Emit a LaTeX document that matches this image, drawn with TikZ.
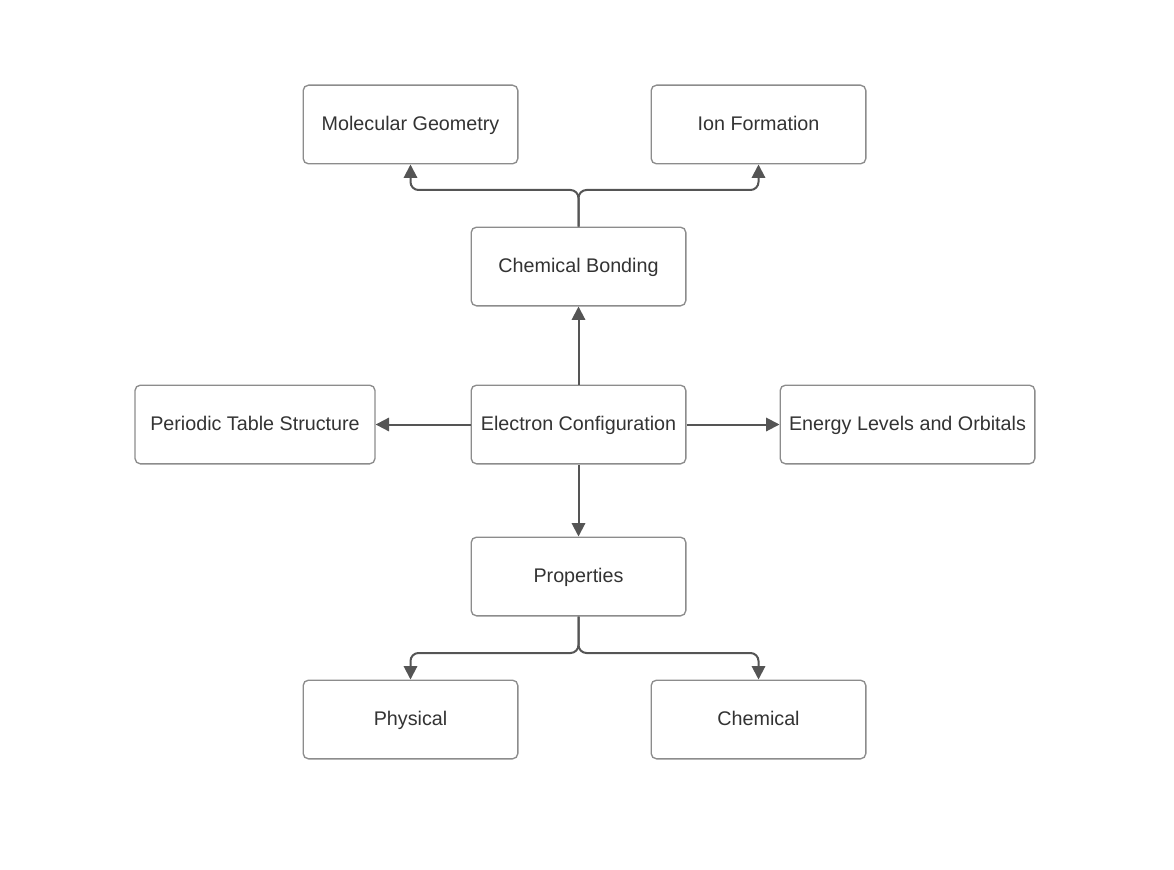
\documentclass[tikz,border=0pt]{standalone}
\usepackage{fontspec}
\setmainfont{Liberation Sans}
\usetikzlibrary{%
    arrows.meta,
    positioning
}
\definecolor{boxline}{HTML}{8C8C8C}
\definecolor{connline}{HTML}{555555}
\definecolor{labeltext}{HTML}{333333}
\tikzset{headarrow/.style = {-{Triangle[length=10pt,width=10pt]}, draw=connline, line width=1.5pt, rounded corners=6pt}}
\tikzset{topicbox/.style = {draw=boxline, line width=1pt, rounded corners=4pt, fill=white,
    minimum width=161pt, minimum height=59pt, text=labeltext,
    text height=0.95em, text depth=0.05em,
    font=\fontsize{14.8pt}{17pt}\selectfont}}

\begin{document}
\begin{tikzpicture}[x=0.75pt,y=-0.75pt]
    \useasboundingbox (0,0) rectangle (1174,870);

    \node[topicbox] (ec) at (578.5,424.5) {Electron Configuration};
    \node[topicbox] (cb) at (578.5,266.5) {Chemical Bonding};
    \node[topicbox] (mg) at (410.5,124.5) {Molecular Geometry};
    \node[topicbox] (if) at (758.5,124.5) {Ion Formation};
    \node[topicbox,minimum width=180pt] (pt) at (255,424.5) {Periodic Table Structure};
    \node[topicbox,minimum width=191pt] (el) at (907.5,424.5) {Energy Levels and Orbitals};
    \node[topicbox] (pr) at (578.5,576.5) {Properties};
    \node[topicbox] (ph) at (410.5,719.5) {Physical};
    \node[topicbox] (ch) at (758.5,719.5) {Chemical};

    \coordinate (cbsplit) at (578.5,190);
    \coordinate (prsplit) at (578.5,653);

    \draw[headarrow] (ec) -- (cb);
    \draw[headarrow] (ec) -- (pt);
    \draw[headarrow] (ec) -- (el);
    \draw[headarrow] (ec) -- (pr);

    \draw[headarrow] (cb.north) -- (cbsplit) -| (mg.south);
    \draw[headarrow] (cb.north) -- (cbsplit) -| (if.south);
    \draw[headarrow] (pr.south) -- (prsplit) -| (ph.north);
    \draw[headarrow] (pr.south) -- (prsplit) -| (ch.north);
\end{tikzpicture}
\end{document}
